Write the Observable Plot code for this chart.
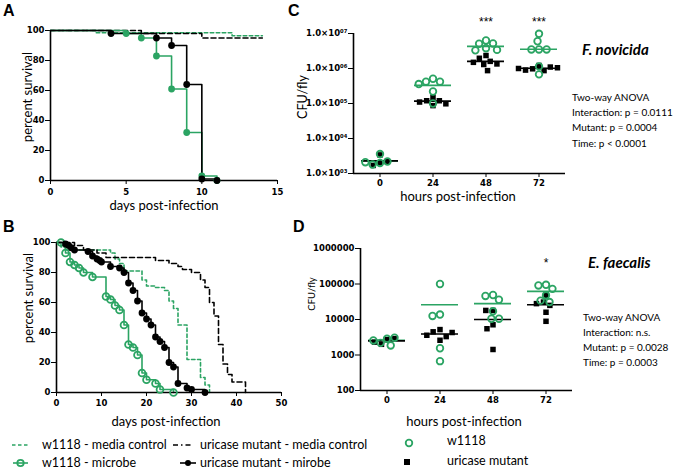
<!DOCTYPE html>
<html><head><meta charset="utf-8">
<script src="https://cdn.jsdelivr.net/npm/d3@7"></script>
<script src="https://cdn.jsdelivr.net/npm/@observablehq/plot@0.6"></script>
<style>
html,body{margin:0;padding:0;background:#fff;}
#fig{position:relative;width:676px;height:471px;overflow:hidden;background:#fff;font-family:Lato,"Open Sans",sans-serif;color:#000;}
.t{position:absolute;white-space:nowrap;line-height:1;transform:translateY(-50%);}
.lab{position:absolute;white-space:nowrap;line-height:1;transform:translate(-50%,-50%);font-size:13px;}
.rot{transform:translate(-50%,-50%) rotate(-90deg);}
.letter{position:absolute;font:bold 16px "Liberation Sans",Arial,sans-serif;line-height:1;}
</style></head><body><div id="fig"></div>
<script>
const GREEN = "#2ba463";

// ---------- Panel A: F. novicida survival ----------
const aDays_w1118Microbe = [0, 5, 6, 7, 8, 9, 10, 11];
const aSurv_w1118Microbe = [100, 98, 95, 83, 61, 32, 3, 0];
const aDays_uricaseMicrobe = [0, 4, 7, 8, 9, 10, 11];
const aSurv_uricaseMicrobe = [100, 98, 95, 90, 64, 1, 0];
const aDays_w1118Media = [0, 3, 12, 14];
const aSurv_w1118Media = [100, 98.5, 96.5, 96.5];
const aDays_uricaseMedia = [0, 6, 10, 14];
const aSurv_uricaseMedia = [100, 98, 95, 95];
const aXTicks = [0, 5, 10, 15];
const survYTicks = [0, 20, 40, 60, 80, 100];

// ---------- Panel B: E. faecalis survival ----------
const bDays_w1118Microbe = [0,1,2,3,4,5,6,8,11,12,13,14,15,16,17,18,19,20,22,23,26];
const bSurv_w1118Microbe = [100,100,93,87,85,83,80,77,64,62,58,55,45,32,30,25,13,8.5,6,2,0];
const bDays_uricaseMicrobe = [0,2,2.7,3.3,4,7,8,9,9.6,10,12,14,15,16,17,18,19,20,21,22,23,24,25,26,27,29,30,33];
const bSurv_uricaseMicrobe = [100,99,98,96.5,95,94,91,89,88,87,84,83,80,73,68,61,53,49,45,37,34,30,20,17,6,3,2,0];
const bDays_w1118Media = [0,1,2,12,13,14,15,19,20,22,24,25,26,27,29,32,33,34];
const bSurv_w1118Media = [100,97,95,93,89,86,81,75,71,70,68,61,56,45,22,10,5,0];
const bDays_uricaseMedia = [0,4,6,9,11,22,25,27,28,30,32,33,34,35,36,37,38,39,42];
const bSurv_uricaseMedia = [100,98,95,93,90,88,86,84,82,80,75,70,60,51,32,19,12,7,0];
const bXTicks = [0, 10, 20, 30, 40, 50];

// ---------- Panel C: F. novicida CFU ----------
const cHours = [0, 24, 48, 72];
const cW1118 = [
  [3600, 2000, 1800, 2200, 2100],
  [510000, 420000, 420000, 360000, 220000, 100000],
  [6300000, 5100000, 5200000, 3800000, 3400000, 3300000],
  [9800000, 6000000, 3500000, 3500000, 3500000, 1150000, 680000]
];
const cMutant = [
  [3400, 2000, 1700, 2200],
  [150000, 120000, 87000, 120000, 98000, 110000],
  [2350000, 1960000, 1600000, 1350000, 1300000, 870000, 1500000],
  [1220000, 980000, 870000, 1100000, 900000, 1050000, 1000000]
];
const cMeanW1118 = [2300, 330000, 4300000, 3550000];
const cMeanMutant = [2300, 117000, 1600000, 1020000];
const cStars = ["", "", "***", "***"];
const cYTicks = [1e3, 1e4, 1e5, 1e6, 1e7];

// ---------- Panel D: E. faecalis CFU ----------
const dHours = [0, 24, 48, 72];
const dW1118 = [
  [2860, 2200, 3060, 1860, 2570],
  [100000, 13800, 12600, 1550, 670],
  [49000, 46000, 36000, 17000, 10500, 10500],
  [95000, 91000, 73000, 48000, 34000, 31000]
];
const dMutant = [
  [2700, 2000, 2900, 2300],
  [5200, 4500, 2600, 3300, 4300, 3600],
  [18000, 18000, 7100, 5500, 1430],
  [48000, 31000, 25000, 28000, 16000, 8900]
];
const dMeanW1118 = [2600, 26000, 28000, 62000];
const dMeanMutant = [2500, 3900, 10000, 26000];
const dStars = ["", "", "", "*"];
const dYTicks = [100, 1000, 10000, 100000, 1000000];

// ---------- helpers ----------
const fig = document.getElementById("fig");
const rows = (xs, ys) => xs.map((x, i) => ({x, y: ys[i]}));
function place(el, left, top) { el.style.position = "absolute"; el.style.left = left + "px"; el.style.top = top + "px"; fig.appendChild(el); }
function addDiv(cls, text, left, top, extra) {
  const d = document.createElement("div"); d.className = cls; d.textContent = text;
  d.style.left = left + "px"; d.style.top = top + "px";
  if (extra) Object.assign(d.style, extra);
  fig.appendChild(d); return d;
}
const tickStyle = {fontFamily: "'DejaVu Sans', sans-serif", fontSize: "8.5px", fontWeight: "bold", background: "none", overflow: "visible", color: "#000"};

function survivalPlot(cfg) {
  const marks = [];
  for (const s of cfg.series) {
    marks.push(Plot.line(s.data, {x: "x", y: "y", curve: "step-after", stroke: s.color, strokeWidth: 1.6, strokeDasharray: s.dash}));
  }
  marks.push(Plot.ruleX([0], {strokeWidth: 1.6}), Plot.ruleY([0], {strokeWidth: 1.6}));
  for (const s of cfg.series) {
    if (!s.marker) continue;
    const pts = s.data.slice(1);
    if (s.marker === "filled") marks.push(Plot.dot(pts, {x: "x", y: "y", r: 3.4, fill: s.color}));
    else marks.push(Plot.dot(pts, {x: "x", y: "y", r: 3.4, stroke: s.color, strokeWidth: 1.8, fill: "none"}));
  }
  return Plot.plot({
    width: cfg.width, height: cfg.height,
    marginLeft: cfg.mL, marginRight: cfg.mR, marginTop: cfg.mT, marginBottom: cfg.mB,
    style: tickStyle,
    x: {domain: cfg.xDomain, ticks: cfg.xTicks, label: null, tickSize: 4, tickPadding: cfg.xPad},
    y: {domain: [0, 100], ticks: survYTicks, label: null, tickSize: 5, tickPadding: 1},
    marks
  });
}

function cfuPlot(cfg) {
  const wRows = cfg.hours.flatMap((h, i) => cfg.w1118[i].map(v => ({hour: h, cfu: v})));
  const mRows = cfg.hours.flatMap((h, i) => cfg.mutant[i].map(v => ({hour: h, cfu: v})));
  const wMean = cfg.hours.map((h, i) => ({hour: h, cfu: cfg.meanW[i]}));
  const mMean = cfg.hours.map((h, i) => ({hour: h, cfu: cfg.meanM[i]}));
  const stars = cfg.hours.map((h, i) => ({hour: h, label: cfg.stars[i]}));
  return Plot.plot({
    width: cfg.width, height: cfg.height,
    marginLeft: cfg.mL, marginRight: cfg.mR, marginTop: cfg.mT, marginBottom: cfg.mB,
    style: tickStyle,
    fx: {domain: cfg.hours, padding: 0, axis: "bottom", tickSize: 4, tickPadding: 2, label: null},
    x: {domain: [0, 1], axis: null},
    y: {type: "log", domain: [cfg.yTicks[0], cfg.yTicks[cfg.yTicks.length - 1]], ticks: cfg.yTicks, tickFormat: cfg.fmt, label: null, tickSize: 5, tickPadding: 1},
    marks: [
      Plot.ruleY([cfg.yTicks[0]], {strokeWidth: 1.6}),
      Plot.ruleX([{hour: cfg.hours[0]}], {fx: "hour", x: () => 0, strokeWidth: 1.6}),
      Plot.tickY(wMean, {fx: "hour", y: "cfu", stroke: GREEN, strokeWidth: 1.6, insetLeft: 8, insetRight: 8}),
      Plot.tickY(mMean, {fx: "hour", y: "cfu", stroke: "black", strokeWidth: 1.6, insetLeft: 8, insetRight: 8}),
      Plot.dot(mRows, Plot.dodgeX("middle", {fx: "hour", y: "cfu", symbol: "square", r: 3.1, fill: "black", padding: 0.5})),
      Plot.dot(wRows, Plot.dodgeX("middle", {fx: "hour", y: "cfu", r: 3.3, stroke: GREEN, strokeWidth: 1.8, fill: "none", padding: 0.5})),
      Plot.text(stars, {fx: "hour", text: "label", frameAnchor: "top", dy: cfg.starDy, fontSize: 12, fontWeight: "normal", fontFamily: "Liberation Sans, Arial, sans-serif"})
    ]
  });
}

const supDigits = {"0":"⁰","1":"¹","2":"²","3":"³","4":"⁴","5":"⁵","6":"⁶","7":"⁷","8":"⁸","9":"⁹"};
const sciFmt = d => "1.0×10" + String(Math.round(Math.log10(d))).padStart(2, "0").split("").map(c => supDigits[c]).join("");

// ---------- Panel A ----------
place(survivalPlot({
  width: 290, height: 200, mL: 50, mR: 13, mT: 30, mB: 20, xDomain: [0, 15], xTicks: aXTicks, xPad: 4,
  series: [
    {data: rows(aDays_w1118Media, aSurv_w1118Media), color: GREEN, dash: "3.5,2.5"},
    {data: rows(aDays_uricaseMedia, aSurv_uricaseMedia), color: "black", dash: "5,3"},
    {data: rows(aDays_w1118Microbe, aSurv_w1118Microbe), color: GREEN, marker: "filled"},
    {data: rows(aDays_uricaseMicrobe, aSurv_uricaseMicrobe), color: "black", marker: "filled"}
  ]
}), 0, 0);

// ---------- Panel B ----------
place(survivalPlot({
  width: 300, height: 195, mL: 56, mR: 19, mT: 22, mB: 23, xDomain: [0, 50], xTicks: bXTicks, xPad: 3,
  series: [
    {data: rows(bDays_w1118Media, bSurv_w1118Media), color: GREEN, dash: "3.5,2.5"},
    {data: rows(bDays_uricaseMedia, bSurv_uricaseMedia), color: "black", dash: "5,3"},
    {data: rows(bDays_w1118Microbe, bSurv_w1118Microbe), color: GREEN, marker: "open"},
    {data: rows(bDays_uricaseMicrobe, bSurv_uricaseMicrobe), color: "black", marker: "filled"}
  ]
}), 0, 220);

// ---------- Panel C ----------
place(cfuPlot({
  width: 280, height: 200, mL: 52, mR: 15, mT: 33, mB: 27,
  hours: cHours, w1118: cW1118, mutant: cMutant, meanW: cMeanW1118, meanM: cMeanMutant,
  stars: cStars, starDy: -16, yTicks: cYTicks, fmt: sciFmt
}), 300, 0);

// ---------- Panel D ----------
place(cfuPlot({
  width: 280, height: 205, mL: 58, mR: 7, mT: 38, mB: 25,
  hours: dHours, w1118: dW1118, mutant: dMutant, meanW: dMeanW1118, meanM: dMeanMutant,
  stars: dStars, starDy: 10, yTicks: dYTicks, fmt: d3.format("d")
}), 300, 210);

// ---------- Text labels ----------
addDiv("letter", "A", 3, 3);
addDiv("letter", "B", 3, 219);
addDiv("letter", "C", 288, 3);
addDiv("letter", "D", 293, 219);

addDiv("lab rot", "percent survival", 27, 97);
addDiv("lab", "days post-infection", 164, 205);
addDiv("lab rot", "percent survival", 28, 298);
addDiv("lab", "days post-infection", 166, 421);

addDiv("lab rot", "CFU/fly", 303, 97, {fontSize: "12.5px"});
addDiv("lab", "hours post-infection", 458, 196);
addDiv("lab rot", "CFU/fly", 312, 294, {fontSize: "9.5px"});
addDiv("lab", "hours post-infection", 464, 421);

addDiv("t", "F. novicida", 582, 49, {fontSize: "15px", fontWeight: "bold", fontStyle: "italic"});
["Two-way ANOVA", "Interaction: p = 0.0111", "Mutant: p = 0.0004", "Time: p < 0.0001"]
  .forEach((s, i) => addDiv("t", s, 572, 97 + i * 15.2, {fontSize: "10px"}));
addDiv("t", "E. faecalis", 588, 262, {fontSize: "15px", fontWeight: "bold", fontStyle: "italic"});
["Two-way ANOVA", "Interaction: n.s.", "Mutant: p = 0.0028", "Time: p = 0.0003"]
  .forEach((s, i) => addDiv("t", s, 583, 317 + i * 15, {fontSize: "10px"}));

// ---------- Legend ----------
const NS = "http://www.w3.org/2000/svg";
const lg = document.createElementNS(NS, "svg");
lg.setAttribute("width", 676); lg.setAttribute("height", 471);
lg.style.position = "absolute"; lg.style.left = "0"; lg.style.top = "0"; lg.style.pointerEvents = "none";
function sv(tag, attrs) { const e = document.createElementNS(NS, tag); for (const k in attrs) e.setAttribute(k, attrs[k]); lg.appendChild(e); return e; }
sv("line", {x1: 12, x2: 29, y1: 445, y2: 445, stroke: GREEN, "stroke-width": 1.6, "stroke-dasharray": "3.5,2.5"});
sv("line", {x1: 173, x2: 193, y1: 445, y2: 445, stroke: "black", "stroke-width": 1.6, "stroke-dasharray": "5,3,1.5,3"});
sv("line", {x1: 13, x2: 28, y1: 463, y2: 463, stroke: GREEN, "stroke-width": 1.6});
sv("circle", {cx: 20.5, cy: 463, r: 3.2, stroke: GREEN, "stroke-width": 1.8, fill: "none"});
sv("line", {x1: 180, x2: 196, y1: 463, y2: 463, stroke: "black", "stroke-width": 1.6});
sv("circle", {cx: 188, cy: 463, r: 3, fill: "black"});
sv("circle", {cx: 409, cy: 443, r: 3.3, stroke: GREEN, "stroke-width": 1.8, fill: "none"});
sv("rect", {x: 404, y: 459, width: 6, height: 6, fill: "black"});
fig.appendChild(lg);
addDiv("t", "w1118 - media control", 42, 445, {fontSize: "12.5px"});
addDiv("t", "uricase mutant - media control", 200, 445, {fontSize: "12.5px"});
addDiv("t", "w1118 - microbe", 42, 463, {fontSize: "12.5px"});
addDiv("t", "uricase mutant - mirobe", 200, 463, {fontSize: "12.5px"});
addDiv("t", "w1118", 447, 441, {fontSize: "12.5px"});
addDiv("t", "uricase mutant", 447, 461, {fontSize: "12.5px"});
</script></body></html>
